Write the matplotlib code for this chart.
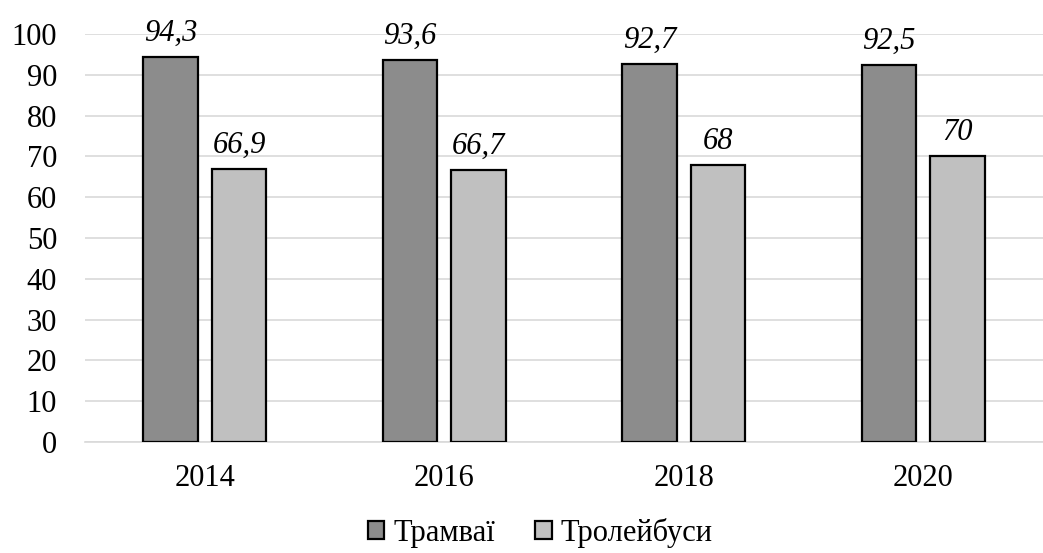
import matplotlib.pyplot as plt
import numpy as np

years = ["2014", "2016", "2018", "2020"]
trams = [94.3, 93.6, 92.7, 92.5]
trolleybuses = [66.9, 66.7, 68, 70]
tram_labels = ["94,3", "93,6", "92,7", "92,5"]
trolleybus_labels = ["66,9", "66,7", "68", "70"]

plt.rcParams["font.family"] = ["Liberation Serif", "DejaVu Serif"]

fig = plt.figure(figsize=(10.43, 5.53), dpi=100)
ax = fig.add_axes([85 / 1043, (553 - 442) / 553, (1043 - 85) / 1043, 408 / 553])

x = np.arange(len(years))
width = 0.228
offset = 0.143

b1 = ax.bar(x - offset, trams, width, color="#8c8c8c", edgecolor="black",
            linewidth=1.6, label="Трамваї", zorder=3)
b2 = ax.bar(x + offset, trolleybuses, width, color="#c0c0c0", edgecolor="black",
            linewidth=1.6, label="Тролейбуси", zorder=3)

for bars, labels in ((b1, tram_labels), (b2, trolleybus_labels)):
    for rect, txt in zip(bars, labels):
        ax.text(rect.get_x() + rect.get_width() / 2, rect.get_height() + 2.2, txt,
                ha="center", va="bottom", fontsize=22, style="italic")

ax.set_xlim(-0.5, 3.5)
ax.set_ylim(0, 100)
ax.set_yticks(range(0, 101, 10))
ax.set_xticks(x)
ax.set_xticklabels(years)
ax.tick_params(axis="both", length=0, labelsize=22)
ax.tick_params(axis="y", pad=20)
ax.tick_params(axis="x", pad=16)
ax.grid(axis="y", color="#d9d9d9", linewidth=1.2, zorder=0)
for side in ["top", "right", "left"]:
    ax.spines[side].set_visible(False)
ax.spines["bottom"].set_color("#d9d9d9")
ax.spines["bottom"].set_linewidth(1.2)

fig.legend(handles=[b1, b2], loc="lower center", bbox_to_anchor=(0.518, -0.04),
           ncol=2, frameon=False, fontsize=22, handlelength=0.55, handleheight=0.55,
           handletextpad=0.3, columnspacing=1.3)

fig.savefig("out.png", dpi=100)
